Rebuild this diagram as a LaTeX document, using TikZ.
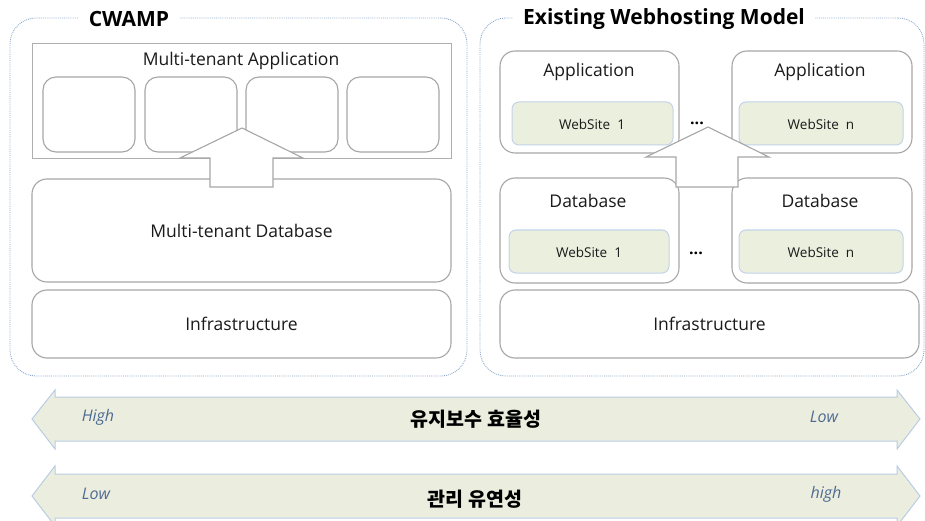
\documentclass[tikz,border=0pt]{standalone}
\usepackage{fontspec}
\setmainfont{Open Sans}
\newfontfamily\kofont{Noto Sans CJK KR}
\usetikzlibrary{positioning}
\definecolor{contc}{HTML}{8FA9CA}
\definecolor{boxgray}{HTML}{A6A6A6}
\definecolor{sitef}{HTML}{EBEFDE}
\definecolor{siteb}{HTML}{C3D4EA}
\definecolor{arrf}{HTML}{EBEEDE}
\definecolor{arrb}{HTML}{B9CCE4}
\definecolor{lvl}{HTML}{4E6A93}
\definecolor{txt}{HTML}{1A1A1A}
\tikzset{
  cont/.style={draw=contc, densely dotted, line width=0.9pt, rounded corners=26pt, inner sep=0pt},
  title/.style={fill=white, inner xsep=10pt, inner ysep=2pt, font=\fontsize{21}{23}\selectfont\bfseries, text=black},
  flat/.style={draw=boxgray!90, line width=0.9pt, fill=white, inner sep=0pt},
  layer/.style={draw=boxgray, line width=1.1pt, fill=white, rounded corners=15pt, inner sep=0pt},
  cell/.style={draw=boxgray, line width=1.1pt, fill=white, rounded corners=13pt, inner sep=0pt},
  site/.style={draw=siteb, fill=sitef, line width=1pt, rounded corners=7pt, inner sep=0pt},
  lbl/.style={font=\fontsize{17.5}{19}\selectfont, text=txt, inner sep=0pt},
  slbl/.style={font=\fontsize{13.5}{15}\selectfont, text=txt, inner sep=0pt},
  lvlt/.style={font=\fontsize{16}{18}\selectfont\itshape, text=lvl, inner sep=0pt},
  kor/.style={font=\kofont\fontsize{19.5}{21}\selectfont\bfseries, text=black, inner sep=0pt},
  blk/.style={draw=boxgray, line width=1.1pt, fill=white, line join=miter},
  dbl/.style={draw=arrb, line width=1pt, fill=arrf, line join=miter},
  dotsty/.style={font=\fontsize{16}{18}\selectfont\bfseries, inner sep=0pt},
}
\begin{document}
\begin{tikzpicture}[x=1pt,y=-1pt]
\useasboundingbox (0,0) rectangle (925,521);
% containers
\node[cont, minimum width=457pt, minimum height=358pt] (cwamp) at (238.5,197) {};
\node[cont, minimum width=444pt, minimum height=358pt] (ewm) at (702,197) {};
\node[title] (t1) at (129,19) {CWAMP};
\node[title] (t2) at (664,19) {Existing Webhosting Model};
% left side
\node[flat, minimum width=419pt, minimum height=115pt] (mta) at (241.5,100.5) {};
\node[lbl] (mtal) at (241,61) {Multi-tenant Application};
\node[cell, minimum width=92pt, minimum height=75pt] (c1) at (89,114.5) {};
\node[cell, minimum width=92pt, minimum height=75pt] (c2) at (191,114.5) {};
\node[cell, minimum width=92pt, minimum height=75pt] (c3) at (292,114.5) {};
\node[cell, minimum width=92pt, minimum height=75pt] (c4) at (393,114.5) {};
\node[layer, minimum width=419pt, minimum height=103pt] (mtdb) at (241.5,230.5) {};
\node[lbl] (mtdbl) at (241.5,231) {Multi-tenant Database};
\node[layer, minimum width=419pt, minimum height=68pt] (infl) at (241.5,324) {};
\node[lbl] (infll) at (241.5,324) {Infrastructure};
\draw[blk] (242,128) -- (303,158) -- (273,158) -- (273,187) -- (210,187) -- (210,158) -- (180,158) -- cycle;
% right side
\node[layer, minimum width=179pt, minimum height=102pt] (app1) at (589.5,102) {};
\node[lbl] (app1l) at (589,72) {Application};
\node[site, minimum width=161pt, minimum height=43pt] (ws1a) at (592.5,123.5) {};
\node[slbl] (ws1al) at (592,124) {WebSite\ \ 1};
\node[layer, minimum width=180pt, minimum height=102pt] (app2) at (822,102) {};
\node[lbl] (app2l) at (820,72) {Application};
\node[site, minimum width=164pt, minimum height=43pt] (wsna) at (821,123.5) {};
\node[slbl] (wsnal) at (821,124) {WebSite\ \ n};
\node[layer, minimum width=179pt, minimum height=105pt] (db1) at (589.5,230.5) {};
\node[lbl] (db1l) at (588,201) {Database};
\node[site, minimum width=160pt, minimum height=43pt] (ws1b) at (589,251.5) {};
\node[slbl] (ws1bl) at (589,252) {WebSite\ \ 1};
\node[layer, minimum width=180pt, minimum height=105pt] (db2) at (822,230.5) {};
\node[lbl] (db2l) at (820,201) {Database};
\node[site, minimum width=164pt, minimum height=43pt] (wsnb) at (821,251.5) {};
\node[slbl] (wsnbl) at (821,252) {WebSite\ \ n};
\node[layer, minimum width=419pt, minimum height=68pt] (infr) at (709.5,324) {};
\node[lbl] (infrl) at (709.5,324) {Infrastructure};
\node[dotsty] (dots1) at (697,123.5) {...};
\node[dotsty] (dots2) at (696,253.5) {...};
\draw[blk] (708,127) -- (769,157) -- (738,157) -- (738,187) -- (676,187) -- (676,157) -- (646,157) -- cycle;
% bottom double arrows
\draw[dbl] (32,419) -- (55,390) -- (55,397) -- (897,397) -- (897,390) -- (920,419) -- (897,449) -- (897,441) -- (55,441) -- (55,449) -- cycle;
\node[lvlt] (h1) at (98,417) {High};
\node[kor] (k1) at (476,419) {유지보수 효율성};
\node[lvlt] (l1) at (824,417) {Low};
\draw[dbl] (32,496) -- (55,466) -- (55,474) -- (897,474) -- (897,466) -- (920,496) -- (897,526) -- (897,518) -- (55,518) -- (55,526) -- cycle;
\node[lvlt] (l2) at (96,494) {Low};
\node[kor] (k2) at (475,499) {관리 유연성};
\node[lvlt] (h2) at (826,494) {high};
\end{tikzpicture}
\end{document}
